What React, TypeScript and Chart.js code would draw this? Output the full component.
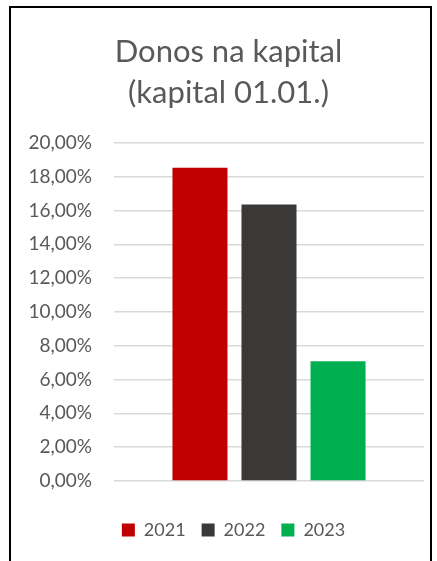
import React, { useEffect, useRef } from "react";
import { Chart, registerables } from "chart.js";

Chart.register(...registerables);

const titleLines = ["Donos na kapital", "(kapital 01.01.)"];
const categories = [""];
const seriesLabels = ["2021", "2022", "2023"];
const series2021 = [18.52];
const series2022 = [16.35];
const series2023 = [7.08];
const seriesColors = ["#C00000", "#3B3838", "#00B050"];
const yMin = 0;
const yMax = 20;
const yStep = 2;

const FONT = "Lato, 'Open Sans', sans-serif";
const TEXT = "#595959";

// Shift title / legend horizontally to match the reference's centring
const shiftPlugin = {
  id: "shiftBlocks",
  afterLayout(chart: any) {
    const lg = chart.legend;
    if (lg) {
      lg.left += 10;
      lg.right += 10;
      if (lg.adjustHitBoxes) lg.adjustHitBoxes();
    }
    const tb = chart.titleBlock;
    if (tb) {
      tb.left += 5;
      tb.right += 5;
    }
  },
};

export default function App() {
  const ref = useRef<HTMLCanvasElement | null>(null);

  useEffect(() => {
    if (!ref.current) return;
    const allSeries = [series2021, series2022, series2023];
    const chart = new Chart(ref.current, {
      type: "bar",
      data: {
        labels: categories,
        datasets: seriesLabels.map((lbl, i) => ({
          label: lbl,
          data: allSeries[i],
          backgroundColor: seriesColors[i],
          borderWidth: 0,
          categoryPercentage: 0.668,
          barPercentage: 0.797,
        })),
      },
      plugins: [shiftPlugin],
      options: {
        animation: false,
        responsive: false,
        maintainAspectRatio: false,
        layout: { padding: { left: 12, right: 6, top: 0, bottom: 12 } },
        plugins: {
          title: {
            display: true,
            text: titleLines,
            color: TEXT,
            font: { family: FONT, size: 31, weight: "normal", lineHeight: 1.32 },
            padding: { top: 24, bottom: 29 },
          },
          legend: {
            display: true,
            position: "bottom",
            labels: {
              color: TEXT,
              font: { family: FONT, size: 18 },
              boxWidth: 13,
              boxHeight: 13,
              padding: 16,
            },
          },
          tooltip: { enabled: false },
        },
        scales: {
          x: {
            grid: { display: false },
            border: { display: false },
            ticks: { display: false },
            afterFit: (scale: any) => {
              scale.height = 24;
            },
          },
          y: {
            min: yMin,
            max: yMax,
            ticks: {
              stepSize: yStep,
              color: TEXT,
              font: { family: FONT, size: 19 },
              padding: 22,
              callback: (v: any) => Number(v).toFixed(2).replace(".", ",") + "%",
            },
            grid: { color: "#D9D9D9", lineWidth: 1.5, drawTicks: false },
            border: { display: false },
            afterFit: (scale: any) => {
              scale.width = 91;
            },
          },
        },
      },
    });
    return () => chart.destroy();
  }, []);

  return (
    <div
      style={{
        position: "absolute",
        left: 9,
        top: 6,
        width: 419,
        height: 600,
        border: "2px solid #000",
        background: "#fff",
      }}
    >
      <canvas ref={ref} width={419} height={553} style={{ display: "block" }} />
    </div>
  );
}
